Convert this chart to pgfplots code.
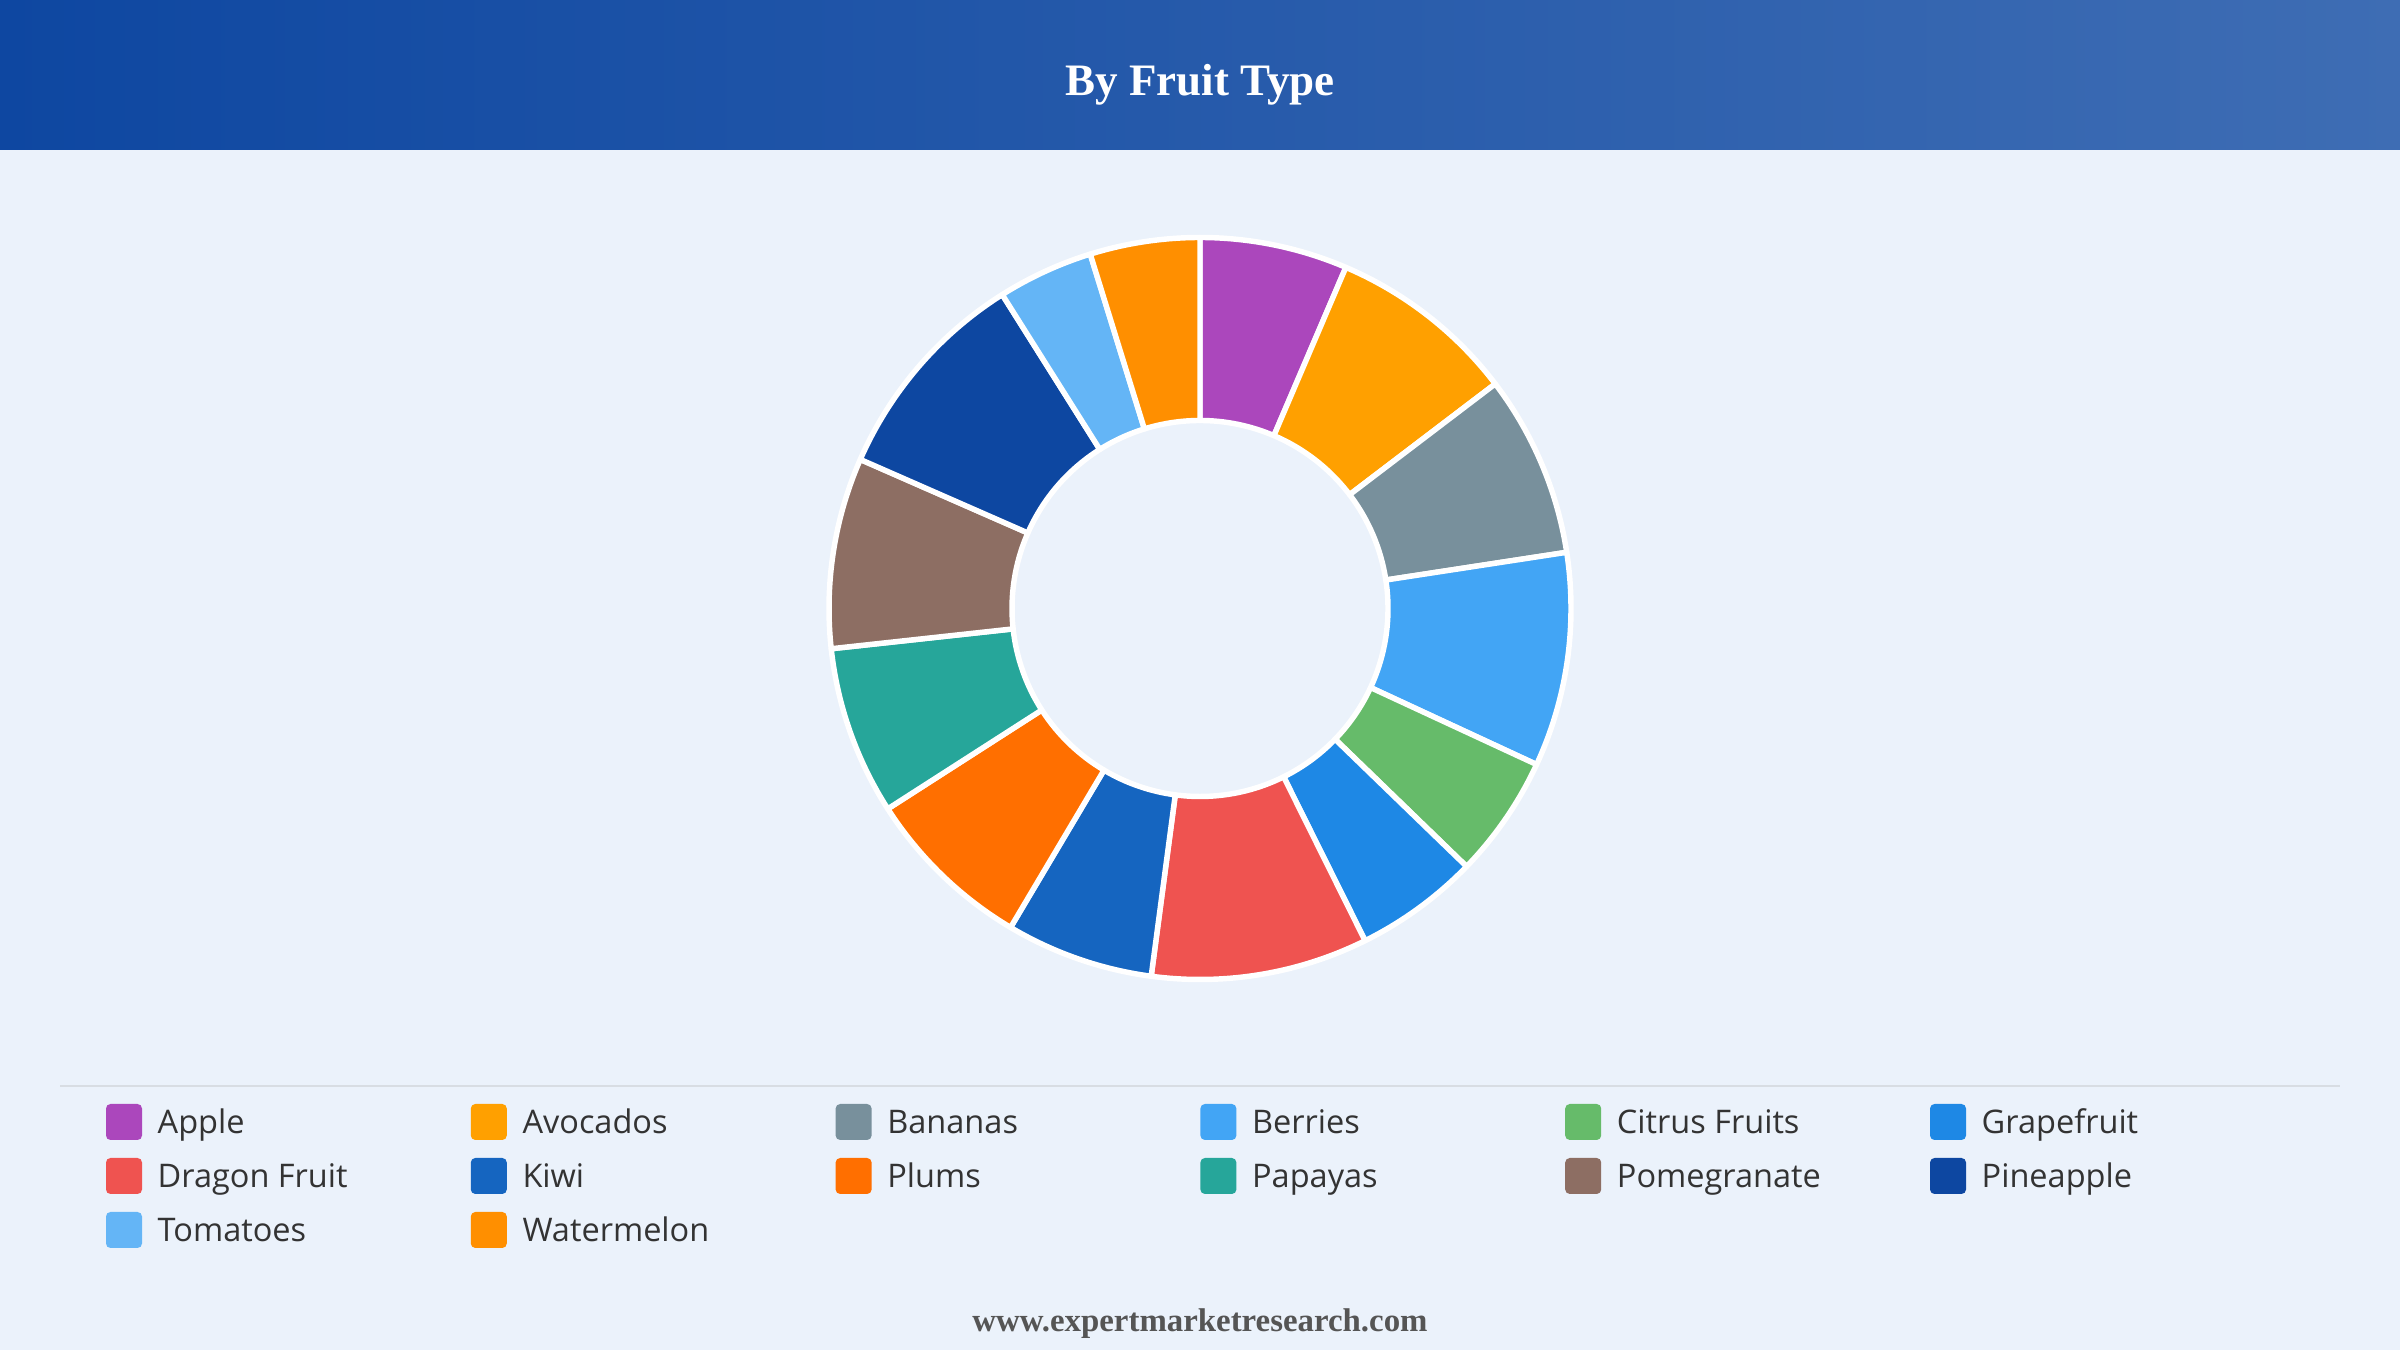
\documentclass[border=0pt]{standalone}
\usepackage{pgfplots}
\pgfplotsset{compat=1.18}
\usepackage{pgfplotstable}
\usepackage{fontspec}
\setmainfont{Open Sans}
\newfontfamily\serifbold{Liberation Serif}

\definecolor{bg}{HTML}{EBF2FB}
\definecolor{hdrL}{HTML}{0E47A1}
\definecolor{hdrR}{HTML}{3E6DB4}
\definecolor{sepgray}{HTML}{D8DDE3}
\definecolor{txtgray}{HTML}{333333}
\definecolor{footgray}{HTML}{555555}
\definecolor{cApple}{HTML}{AB47BC}
\definecolor{cAvocados}{HTML}{FFA000}
\definecolor{cBananas}{HTML}{78909C}
\definecolor{cBerries}{HTML}{42A5F5}
\definecolor{cCitrus}{HTML}{66BB6A}
\definecolor{cGrapefruit}{HTML}{1E88E5}
\definecolor{cDragon}{HTML}{EF5350}
\definecolor{cKiwi}{HTML}{1565C0}
\definecolor{cPlums}{HTML}{FF6F00}
\definecolor{cPapayas}{HTML}{26A69A}
\definecolor{cPomegranate}{HTML}{8D6E63}
\definecolor{cPineapple}{HTML}{0D47A1}
\definecolor{cTomatoes}{HTML}{64B5F6}
\definecolor{cWatermelon}{HTML}{FF8F00}

\pgfplotstableread[col sep=comma,row sep=\\]{
name,value,color\\
Apple,6.43,cApple\\
Avocados,8.22,cAvocados\\
Bananas,7.93,cBananas\\
Berries,9.33,cBerries\\
Citrus Fruits,5.33,cCitrus\\
Grapefruit,5.42,cGrapefruit\\
Dragon Fruit,9.44,cDragon\\
Kiwi,6.43,cKiwi\\
Plums,7.39,cPlums\\
Papayas,7.35,cPapayas\\
Pomegranate,8.31,cPomegranate\\
Pineapple,9.47,cPineapple\\
Tomatoes,4.17,cTomatoes\\
Watermelon,4.78,cWatermelon\\
}\fruits

\tikzset{
  legtext/.style={anchor=base west,inner sep=0pt,text=txtgray,font=\fontsize{9.25pt}{11pt}\selectfont},
  slicestyle/.style={draw=white,line width=1.55pt,line join=round},
}

% total
\pgfplotstablegetrowsof{\fruits}
\pgfmathtruncatemacro\lastrow{\pgfplotsretval-1}
\def\tot{0}
\pgfplotsforeachungrouped \i in {0,...,\lastrow}{%
  \pgfplotstablegetelem{\i}{value}\of\fruits
  \pgfmathsetmacro\tot{\tot+\pgfplotsretval}%
}
% build slices and legend
\def\slices{}
\def\legendcmds{}
\def\cum{0}
\pgfplotsforeachungrouped \i in {0,...,\lastrow}{%
  \pgfplotstablegetelem{\i}{value}\of\fruits \let\sval\pgfplotsretval
  \pgfplotstablegetelem{\i}{color}\of\fruits \let\scol\pgfplotsretval
  \pgfplotstablegetelem{\i}{name}\of\fruits \let\sname\pgfplotsretval
  \pgfmathsetmacro\aS{90-(\cum/\tot)*360}%
  \pgfmathsetmacro\cum{\cum+\sval}%
  \pgfmathsetmacro\aE{90-(\cum/\tot)*360}%
  \pgfmathsetmacro\xo{1200+371*cos(\aS)}%
  \pgfmathsetmacro\yo{741.5+371*sin(\aS)}%
  \pgfmathsetmacro\xin{1200+188*cos(\aE)}%
  \pgfmathsetmacro\yin{741.5+188*sin(\aE)}%
  \pgfmathtruncatemacro\lrow{\i/6}%
  \pgfmathtruncatemacro\lcol{\i-6*\lrow}%
  \pgfmathsetmacro\sqx{106+364.8*\lcol}%
  \pgfmathsetmacro\sqxb{\sqx+36}%
  \pgfmathsetmacro\sqy{1350-1104-54*\lrow}%
  \pgfmathsetmacro\sqyb{\sqy-36}%
  \pgfmathsetmacro\tx{157+364.8*\lcol}%
  \pgfmathsetmacro\ty{1350-1133.3-54*\lrow}%
  \edef\slices{\unexpanded\expandafter{\slices}%
    \noexpand\filldraw[fill=\scol,slicestyle] (axis cs:\xo,\yo) arc[start angle=\aS,end angle=\aE,radius=3.71cm] -- (axis cs:\xin,\yin) arc[start angle=\aE,end angle=\aS,radius=1.88cm] -- cycle;}%
  \edef\legendcmds{\unexpanded\expandafter{\legendcmds}%
    \noexpand\fill[\scol,rounded corners=0.045cm] (axis cs:\sqx,\sqyb) rectangle (axis cs:\sqxb,\sqy);
    \noexpand\node[legtext] at (axis cs:\tx,\ty) {\sname};}%
}

\begin{document}
\begin{tikzpicture}
\begin{axis}[
  scale only axis, width=24cm, height=13.5cm,
  xmin=0, xmax=2400, ymin=0, ymax=1350,
  hide axis, clip=false, disabledatascaling,
]
\fill[bg] (axis cs:0,0) rectangle (axis cs:2400,1350);
\shade[left color=hdrL,right color=hdrR] (axis cs:0,1200) rectangle (axis cs:2400,1350);
\node[anchor=base,inner sep=0pt,text=white,font=\serifbold\bfseries\fontsize{12.8pt}{15pt}\selectfont] at (axis cs:1200,1254) {By Fruit Type};
\slices
\draw[sepgray,line width=0.8pt] (axis cs:60,264) -- (axis cs:2340,264);
\legendcmds
\node[anchor=base,inner sep=0pt,text=footgray,font=\serifbold\bfseries\fontsize{9.35pt}{11pt}\selectfont] at (axis cs:1200,18.3) {www.expertmarketresearch.com};
\end{axis}
\end{tikzpicture}
\end{document}
